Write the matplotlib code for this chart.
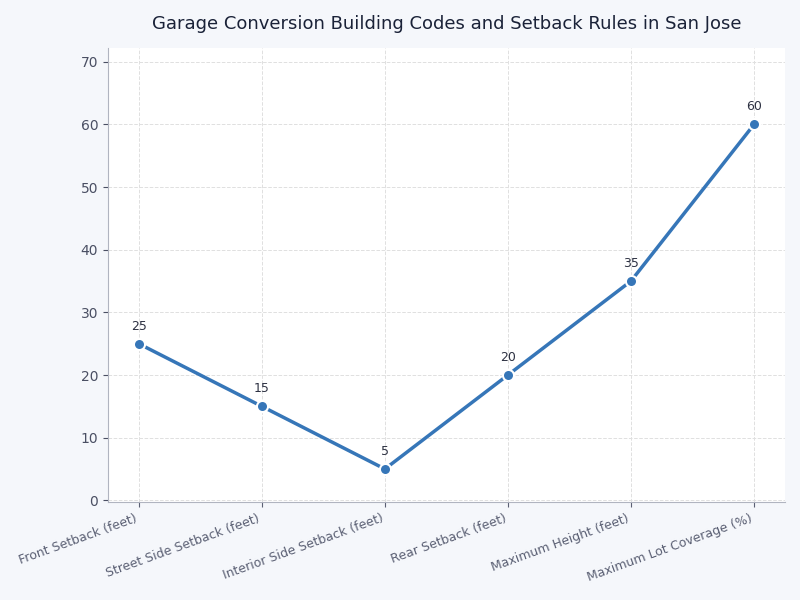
import matplotlib
matplotlib.use("Agg")
import matplotlib.pyplot as plt

categories = ["Front Setback (feet)", "Street Side Setback (feet)", "Interior Side Setback (feet)",
              "Rear Setback (feet)", "Maximum Height (feet)", "Maximum Lot Coverage (%)"]
values = [25, 15, 5, 20, 35, 60]
yticks = [0, 10, 20, 30, 40, 50, 60, 70]

plt.rcParams['font.family'] = ['DejaVu Sans']
fig = plt.figure(figsize=(8, 6), dpi=100, facecolor="#f5f7fb")
ax = fig.add_axes([0.135, 0.163, 0.846, 0.757])
ax.set_facecolor("white")
x = list(range(len(categories)))
ax.plot(x, values, color="#3676b8", linewidth=2.5, marker="o", markersize=8,
        markerfacecolor="#3676b8", markeredgecolor="white", markeredgewidth=1.5, zorder=3)
for xi, v in zip(x, values):
    ax.annotate(str(v), (xi, v), textcoords="offset points", xytext=(0, 8),
                ha="center", va="bottom", fontsize=9, color="#2d3142")
ax.set_xticks(x)
ax.set_xticklabels(categories, rotation=20, ha="right", fontsize=9, color="#5a5f73")
ax.set_yticks(yticks)
ax.tick_params(axis="y", labelsize=10, colors="#4a4f63")
ax.tick_params(axis="x", colors="#5a5f73")
ax.set_xlim(-0.25, 5.25)
ax.set_ylim(-0.3, 72.2)
ax.grid(True, linestyle="--", color="#e0e0e0", linewidth=0.7)
ax.set_axisbelow(True)
for s in ["top", "right"]:
    ax.spines[s].set_visible(False)
for s in ["left", "bottom"]:
    ax.spines[s].set_color("#b0b4c0")
ax.set_title("Garage Conversion Building Codes and Setback Rules in San Jose",
             fontsize=13, color="#1a2238", pad=14)
fig.savefig("out.png", dpi=100, facecolor=fig.get_facecolor())
